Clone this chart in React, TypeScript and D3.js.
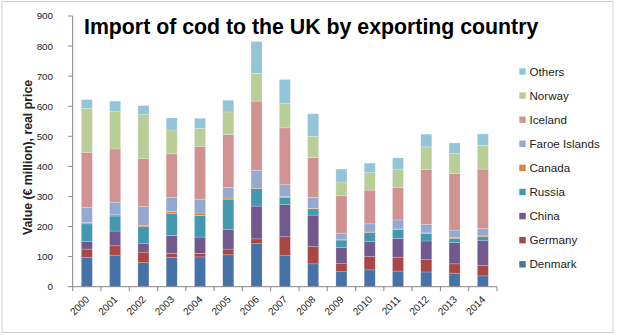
import React from "react";
import * as d3 from "d3";

const years = ["2000","2001","2002","2003","2004","2005","2006","2007","2008","2009","2010","2011","2012","2013","2014"];
const denmark = [98,105,80,98,99,106,143,103,76,50,56,52,49,45,36];
const germany = [27,31,35,13,12,19,16,63,57,28,44,46,41,31,35];
const china = [26,49,28,59,54,66,109,107,105,52,51,62,62,71,82];
const russia = [58,50,56,73,72,100,58,24,21,25,29,30,24,13,13];
const canada = [4,4,4,7,8,4,2,3,2,1,2,2,3,3,3];
const faroe = [50,42,63,47,46,35,59,39,36,22,27,30,28,25,24];
const iceland = [184,177,160,145,175,176,230,189,133,124,112,107,182,188,198];
const norway = [146,124,146,79,60,75,92,81,70,46,58,62,76,67,79];
const others = [29,35,30,40,34,39,106,80,75,43,32,37,42,35,38];

const seriesNames = ["Denmark","Germany","China","Russia","Canada","Faroe Islands","Iceland","Norway","Others"];
const seriesValues = [denmark, germany, china, russia, canada, faroe, iceland, norway, others];
const seriesColors = ["#4572A7","#AA4643","#71588F","#4198AF","#DB843D","#93A9CF","#D19392","#B9CD96","#93C5D8"];
const yTicks = [0,100,200,300,400,500,600,700,800,900];

const W = 618, H = 335;
const FONT = "'Liberation Sans', Arial, sans-serif";

export default function App() {
  const x = d3.scaleBand<string>().domain(years).range([72.7, 497]).paddingInner(0.61).paddingOuter(0.305);
  const y = d3.scaleLinear().domain([0, 900]).range([286.7, 16]);

  const rows = years.map((yr, i) => {
    const r: any = { year: yr };
    seriesNames.forEach((n, k) => (r[n] = seriesValues[k][i]));
    return r;
  });
  const stacked = d3.stack<any>().keys(seriesNames)(rows);

  const step = x.step();
  const x0 = 72.7;
  const x1 = 497;
  const boundaries = d3.range(years.length + 1).map((i) => x0 + i * step);

  const legendTop = 71.5;
  const legendGap = 24.1;

  return (
    <svg width={W} height={H} style={{ position: "absolute", left: 0, top: 0, background: "#fff" }} fontFamily={FONT}>
      <rect x={2} y={1.5} width={611} height={331} fill="#fff" stroke="#D0D0D0" strokeWidth={1} />
      {/* bars */}
      {stacked.map((s, k) => (
        <g key={s.key} fill={seriesColors[k]}>
          {s.map((d, i) => (
            <rect
              key={i}
              x={x(years[i])}
              width={x.bandwidth()}
              y={y(d[1])}
              height={Math.max(0, y(d[0]) - y(d[1]))}
              stroke="#ffffff"
              strokeOpacity={0.35}
              strokeWidth={0.6}
            />
          ))}
        </g>
      ))}
      {/* y axis */}
      <line x1={x0} x2={x0} y1={y(900)} y2={y(0)} stroke="#868686" strokeWidth={1} />
      {yTicks.map((t) => (
        <g key={t}>
          <line x1={x0 - 4.5} x2={x0} y1={y(t)} y2={y(t)} stroke="#868686" strokeWidth={1} />
          <text x={53} y={y(t)} dy="0.35em" textAnchor="end" fontSize={9.8} fill="#222">{t}</text>
        </g>
      ))}
      {/* x axis */}
      <line x1={x0} x2={x1} y1={y(0)} y2={y(0)} stroke="#868686" strokeWidth={1} />
      {boundaries.map((bx, i) => (
        <line key={i} x1={bx} x2={bx} y1={y(0)} y2={y(0) + 4.5} stroke="#868686" strokeWidth={1} />
      ))}
      {years.map((yr) => {
        const cx = (x(yr) as number) + x.bandwidth() / 2 + 1;
        const cy = 298;
        return (
          <text key={yr} x={cx} y={cy} textAnchor="end" fontSize={10} fill="#222" transform={`rotate(-45 ${cx} ${cy})`} dy="0.3em">
            {yr}
          </text>
        );
      })}
      {/* y axis title */}
      <text transform={`translate(32 157.5) rotate(-90)`} textAnchor="middle" fontSize={12.3} fontWeight="bold" fill="#222">
        Value (€ million), real price
      </text>
      {/* title */}
      <text x={84} y={33.5} fontSize={21.3} fontWeight="bold" fill="#000">
        Import of cod to the UK by exporting country
      </text>
      {/* legend */}
      {seriesNames.slice().reverse().map((n, j) => {
        const k = seriesNames.length - 1 - j;
        const cy = legendTop + j * legendGap;
        return (
          <g key={n}>
            <rect x={519.3} y={cy - 3.2} width={6.4} height={6.4} fill={seriesColors[k]} />
            <text x={529.5} y={cy} dy="0.35em" fontSize={11.6} fill="#222">{n}</text>
          </g>
        );
      })}
    </svg>
  );
}
